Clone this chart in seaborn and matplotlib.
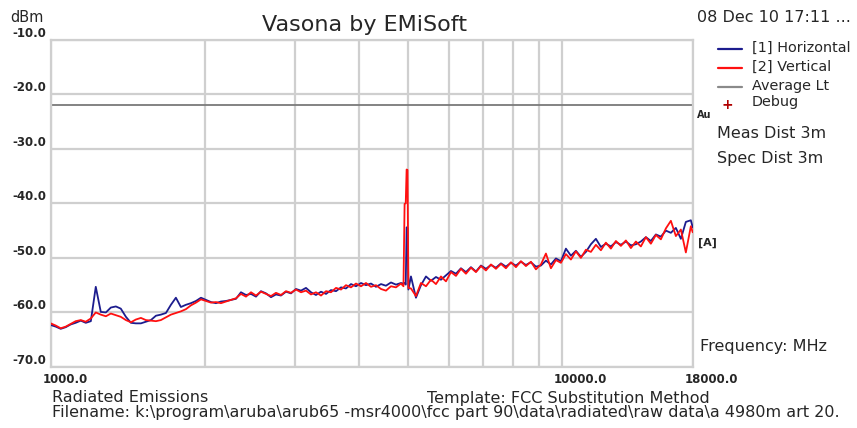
import numpy as np
import pandas as pd
import matplotlib
matplotlib.use("Agg")
import matplotlib.pyplot as plt
import matplotlib.transforms as mtransforms
from matplotlib.ticker import FixedLocator, NullFormatter
import seaborn as sns

# Sweep frequencies (MHz)
freq_mhz = [
    1000, 1023, 1046, 1070, 1094, 1119, 1145, 1171, 1198, 1225,
    1253, 1282, 1311, 1341, 1371, 1403, 1435, 1467, 1501, 1535,
    1570, 1606, 1642, 1680, 1718, 1757, 1797, 1838, 1880, 1923,
    1967, 2012, 2058, 2104, 2152, 2201, 2252, 2303, 2355, 2409,
    2464, 2520, 2577, 2636, 2696, 2757, 2820, 2884, 2950, 3017,
    3086, 3156, 3228, 3301, 3377, 3454, 3532, 3613, 3695, 3779,
    3865, 3953, 4043, 4135, 4229, 4325, 4424, 4524, 4627, 4733,
    4840, 4895, 4920, 4945, 4965, 4985, 5005,
    5063, 5178, 5296, 5417, 5540, 5666, 5795, 5927, 6062, 6200,
    6341, 6485, 6633, 6784, 6938, 7096, 7258, 7423, 7592, 7764,
    7941, 8122, 8306, 8495, 8689, 8886, 9089, 9296, 9507, 9724,
    9945, 10171, 10403, 10639, 10881, 11129, 11382, 11641, 11906, 12177,
    12454, 12738, 13028, 13324, 13627, 13937, 14254, 14579, 14910, 15250,
    15597, 15952, 16315, 16686, 17066, 17454, 17851, 18000,
]

# [1] Horizontal polarisation (dBm)
horizontal_dbm = [
    -62.3, -62.6, -63.0, -62.7, -62.2, -61.9, -61.5, -61.9, -61.6, -55.3,
    -59.9, -60.0, -59.1, -58.9, -59.3, -60.8, -61.9, -62.0, -62.0, -61.7,
    -61.4, -60.6, -60.4, -60.1, -58.6, -57.3, -59.0, -58.6, -58.3, -57.9,
    -57.3, -57.7, -58.1, -58.3, -58.0, -57.9, -57.7, -57.5,
    -56.3, -56.8, -56.6, -57.1, -56.1, -56.5, -57.2, -56.7, -56.9, -56.2,
    -56.5, -55.7, -56.0, -55.5, -56.3, -56.8, -56.2, -56.6, -55.9, -56.1,
    -55.4, -55.6, -54.8, -55.2, -54.6, -55.0, -54.7, -55.3, -54.8, -55.1,
    -54.5, -54.9, -54.6,
    -54.7, -54.6, -54.9, -44.4, -44.5, -55.8,
    -53.4, -57.3, -55.0, -53.4, -54.2, -53.5, -54.0, -53.2, -52.4, -52.9,
    -51.9, -52.6, -51.7, -52.5, -51.4, -52.0, -51.3, -51.8, -51.0, -51.6,
    -50.9, -51.4, -50.7, -51.3, -50.8, -51.6, -51.4, -50.5, -51.2, -50.1,
    -50.6, -48.3, -49.6, -48.7, -49.8, -48.9, -47.5, -46.5, -48.0, -47.4,
    -47.9, -47.1, -47.6, -47.0, -47.7, -47.5, -47.0, -46.2, -46.9, -45.7,
    -46.1, -45.0, -45.4, -44.5, -46.5, -43.4, -43.1, -44.4,
]

# [2] Vertical polarisation (dBm)
vertical_dbm = [
    -62.0, -62.4, -62.9, -62.6, -62.1, -61.6, -61.4, -61.7, -61.1, -60.0,
    -60.4, -60.7, -60.2, -60.5, -60.8, -61.4, -61.8, -61.3, -61.0, -61.4,
    -61.5, -61.6, -61.4, -60.9, -60.4, -60.1, -59.8, -59.4, -58.7, -58.2,
    -57.6, -57.9, -58.2, -58.1, -58.3, -58.0, -57.7, -57.4,
    -56.6, -57.1, -56.3, -56.9, -56.2, -56.6, -57.0, -56.4, -56.8, -56.1,
    -56.4, -55.8, -56.3, -56.0, -56.7, -56.3, -56.9, -56.1, -56.3, -55.5,
    -55.8, -55.0, -55.4, -54.7, -55.2, -54.6, -55.3, -55.0, -55.7, -56.0,
    -55.2, -55.4, -54.7,
    -55.2, -40.1, -40.0, -33.8, -33.9, -55.5,
    -55.6, -57.0, -54.6, -55.2, -54.0, -54.8, -53.4, -54.3, -52.6, -53.3,
    -52.0, -52.9, -51.8, -52.6, -51.5, -52.3, -51.2, -52.0, -51.1, -51.9,
    -50.8, -51.7, -50.6, -51.5, -50.7, -52.1, -51.2, -49.2, -51.9, -50.4,
    -50.9, -49.3, -50.3, -48.8, -50.0, -48.5, -48.9, -47.6, -48.6, -47.2,
    -48.3, -46.9, -47.8, -46.8, -48.2, -47.0, -47.9, -46.2, -47.4, -45.8,
    -46.6, -44.6, -43.2, -46.0, -44.8, -49.0, -44.2, -45.3,
]

average_limit_dbm = -22.0
y_ticks = [-70, -60, -50, -40, -30, -20, -10]
x_label_ticks = [1000, 10000, 18000]
x_grid_minor = [2000, 3000, 4000, 5000, 6000, 7000, 8000, 9000]

df = pd.DataFrame({
    "freq": freq_mhz * 2,
    "level": horizontal_dbm + vertical_dbm,
    "trace": ["[1] Horizontal"] * len(freq_mhz) + ["[2] Vertical"] * len(freq_mhz),
})

sns.set_theme(style="white")
plt.rcParams["font.family"] = ["DejaVu Sans"]

W, H = 857, 428
fig = plt.figure(figsize=(W / 100, H / 100), dpi=100)
ax = fig.add_axes([50.7 / W, 1 - 367 / H, (692.7 - 50.7) / W, (367 - 39.7) / H])

blue = "#1c1c8e"
red = "#ff1010"
grid_c = "#cfcfcf"

sns.lineplot(data=df, x="freq", y="level", hue="trace",
             palette={"[1] Horizontal": blue, "[2] Vertical": red},
             estimator=None, sort=False, legend=False, linewidth=1.3, ax=ax,
             zorder=3)
ax.axhline(average_limit_dbm, color="#7a7a7a", linewidth=1.3, zorder=2)

ax.set_xscale("log")
ax.set_xlim(1000, 18000)
ax.set_ylim(-70, -10)
ax.set_xticks(x_label_ticks)
ax.set_xticklabels([f"{v:.1f}" for v in x_label_ticks])
ax.xaxis.set_minor_locator(FixedLocator(x_grid_minor))
ax.xaxis.set_minor_formatter(NullFormatter())
ax.set_yticks(y_ticks)
ax.set_yticklabels([f"{v:.1f}" for v in y_ticks])
ax.grid(True, which="both", axis="x", color=grid_c, linewidth=1.6, zorder=1)
ax.grid(True, which="major", axis="y", color=grid_c, linewidth=1.6, zorder=1)
ax.set_axisbelow(True)
ax.tick_params(axis="both", which="both", length=0, labelsize=8.5, pad=3)
for lab in ax.get_yticklabels():
    lab.set_fontweight("bold")
    lab.set_verticalalignment("bottom")
for lab in ax.get_xticklabels():
    lab.set_fontweight("bold")
    lab.set_horizontalalignment("left")
    lab.set_transform(lab.get_transform() +
                      mtransforms.ScaledTranslation(-8 / 100, -2 / 100, fig.dpi_scale_trans))
for s in ax.spines.values():
    s.set_color(grid_c)
    s.set_linewidth(1.6)
ax.set_xlabel("")
ax.set_ylabel("")


def ftext(x, y, s, **kw):
    fig.text(x / W, 1 - y / H, s, va="center", **kw)


ftext(364, 25, "Vasona by EMiSoft", ha="center", fontsize=16)
ftext(10, 18, "dBm", ha="left", fontsize=10.5)
ftext(697, 17, "08 Dec 10 17:11 ...", ha="left", fontsize=11.5)

# Legend block
leg_items = [(49, blue, "[1] Horizontal"), (68, red, "[2] Vertical"),
             (87, "#8a8a8a", "Average Lt")]
for yy, col, lab in leg_items:
    fig.add_artist(plt.Line2D([718 / W, 742 / W], [1 - yy / H, 1 - yy / H],
                              color=col, linewidth=1.6))
    ftext(752, yy - 1, lab, ha="left", fontsize=10.4)
ftext(727, 105, "+", ha="center", fontsize=10, color="#b00000", fontweight="bold")
ftext(752, 102, "Debug", ha="left", fontsize=10.4)
ftext(697, 115, "Au", ha="left", fontsize=7, fontweight="bold")
ftext(717, 134, "Meas Dist 3m", ha="left", fontsize=11.5)
ftext(717, 158, "Spec Dist 3m", ha="left", fontsize=11.5)
ftext(698, 243, "[A]", ha="left", fontsize=8, fontweight="bold")
ftext(700, 346, "Frequency: MHz", ha="left", fontsize=11.5)

ftext(52, 398, "Radiated Emissions", ha="left", fontsize=11.5)
ftext(427, 398, "Template: FCC Substitution Method", ha="left", fontsize=11.5)
ftext(52, 412, "Filename: k:\\program\\aruba\\arub65 -msr4000\\fcc part 90\\data\\radiated\\raw data\\a 4980m art 20.",
      ha="left", fontsize=11.5)

fig.savefig("out.png", dpi=100)
